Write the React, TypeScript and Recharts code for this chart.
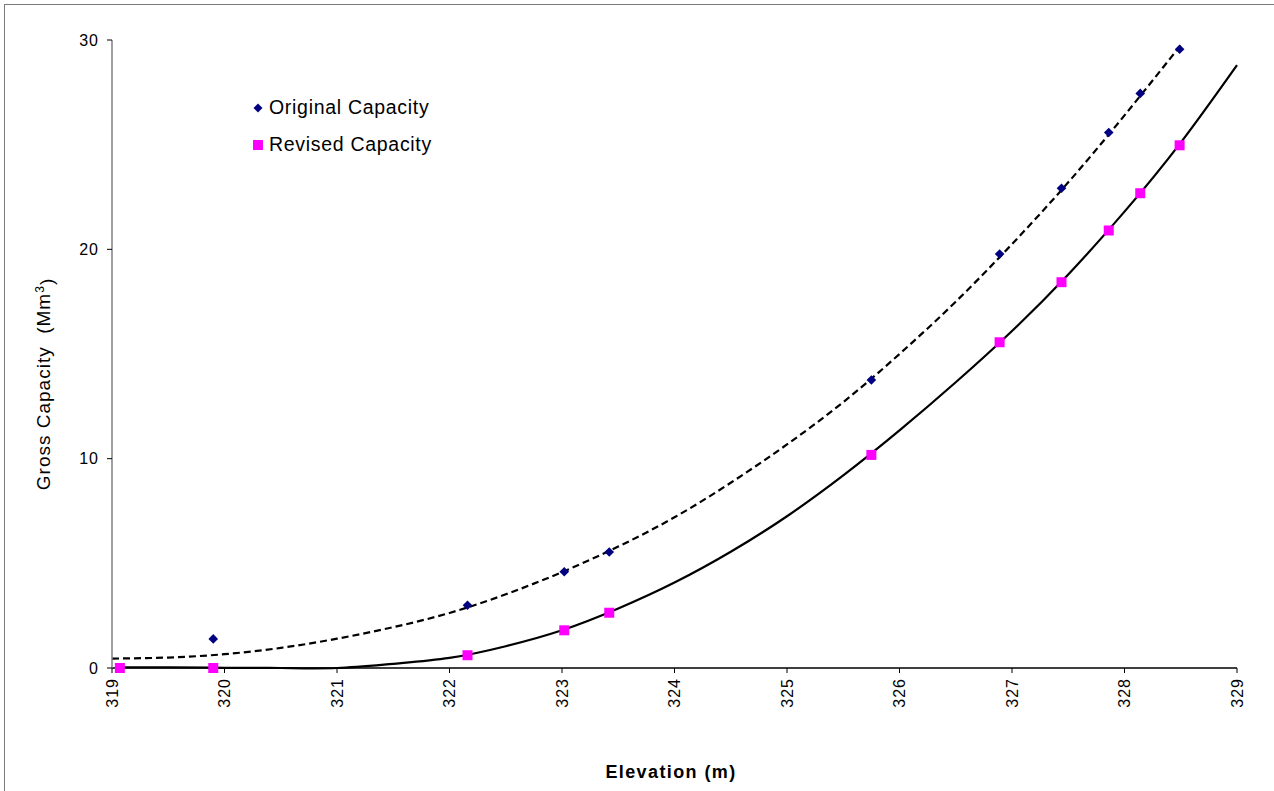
import { ComposedChart, Scatter, Line, XAxis, YAxis, Legend } from 'recharts'

const FONT = '"Liberation Sans", Arial, sans-serif'

// measured points
const originalElev = [319.9, 322.16, 323.02, 323.42, 325.75, 326.89, 327.44, 327.86, 328.14, 328.49]
const originalCap = [1.39, 3.0, 4.6, 5.54, 13.76, 19.78, 22.92, 25.58, 27.45, 29.56]

const revisedElev = [319.07, 319.9, 322.16, 323.02, 323.42, 325.75, 326.89, 327.44, 327.86, 328.14, 328.49]
const revisedCap = [0, 0, 0.61, 1.8, 2.64, 10.18, 15.56, 18.43, 20.9, 22.68, 24.97]

// trend lines
const originalTrendElev = [319, 319.5, 320, 320.5, 321, 321.5, 322, 322.5, 323, 323.5, 324, 324.5, 325, 325.5, 326, 326.5, 327, 327.5, 328, 328.5]
const originalTrendCap = [0.45, 0.5, 0.66, 0.96, 1.4, 1.95, 2.63, 3.52, 4.58, 5.8, 7.2, 8.85, 10.68, 12.7, 15.0, 17.5, 20.25, 23.2, 26.4, 29.75]

const revisedTrendElev = [319.05, 319.5, 320, 320.5, 321, 321.5, 322, 322.5, 323, 323.5, 324, 324.5, 325, 325.5, 326, 326.5, 327, 327.5, 328, 328.5, 329]
const revisedTrendCap = [0.03, 0.03, 0.01, 0, 0, 0.2, 0.48, 1.04, 1.8, 2.84, 4.08, 5.55, 7.25, 9.2, 11.35, 13.65, 16.1, 18.8, 21.8, 25.1, 28.8]

const xTicks = [319, 320, 321, 322, 323, 324, 325, 326, 327, 328, 329]
const yTicks = [0, 10, 20, 30]

const zip = (xs: number[], ys: number[]) => xs.map((x, i) => ({ x, y: ys[i] }))
const originalData = zip(originalElev, originalCap)
const revisedData = zip(revisedElev, revisedCap)
const originalTrend = zip(originalTrendElev, originalTrendCap)
const revisedTrend = zip(revisedTrendElev, revisedTrendCap)

const Diamond = (props: any) => {
  const { cx, cy } = props
  const r = 4.8
  return <polygon points={`${cx},${cy - r} ${cx + r},${cy} ${cx},${cy + r} ${cx - r},${cy}`} fill="#000080" />
}

const Square = (props: any) => {
  const { cx, cy } = props
  return <rect x={cx - 5} y={cy - 5} width={10} height={10} fill="#FF00FF" />
}

const XTick = (props: any) => {
  const { x, y, payload } = props
  return (
    <text
      x={x}
      y={y + 3}
      transform={`rotate(-90, ${x}, ${y + 3})`}
      textAnchor="end"
      dy="0.36em"
      fill="#000"
      style={{ fontFamily: FONT, fontSize: 16, letterSpacing: 1 }}
    >
      {payload.value}
    </text>
  )
}

const YLabel = () => (
  <text
    x={43}
    y={384}
    transform="rotate(-90, 43, 384)"
    textAnchor="middle"
    dy="0.36em"
    fill="#000"
    style={{ fontFamily: FONT, fontSize: 19, letterSpacing: 1 }}
  >
    Gross Capacity&#160;&#160;(Mm<tspan dy="-0.45em" fontSize={12}>3</tspan>
    <tspan dy="0.45em">)</tspan>
  </text>
)

const XLabel = () => (
  <text
    x={671}
    y={772}
    textAnchor="middle"
    dy="0.36em"
    fill="#000"
    style={{ fontFamily: FONT, fontSize: 18, fontWeight: 'bold', letterSpacing: 1.4 }}
  >
    Elevation (m)
  </text>
)

const renderLegend = () => {
  const items = [
    { name: 'Original Capacity', icon: <polygon points="5,0.5 9.5,5 5,9.5 0.5,5" fill="#000080" /> },
    { name: 'Revised Capacity', icon: <rect x={0} y={0} width={10} height={10} fill="#FF00FF" /> },
  ]
  return (
    <div style={{ fontFamily: FONT, fontSize: 19.5, color: '#000' }}>
      {items.map((it) => (
        <div key={it.name} style={{ display: 'flex', alignItems: 'center', height: 37 }}>
          <svg width={10} height={10} style={{ marginRight: 6 }}>
            {it.icon}
          </svg>
          <span style={{ letterSpacing: 0.7 }}>{it.name}</span>
        </div>
      ))}
    </div>
  )
}

export default function App() {
  return (
    <div style={{ position: 'absolute', left: 0, top: 0, width: 1274, height: 791, overflow: 'hidden', background: '#fff' }}>
      <div
        style={{
          position: 'absolute',
          left: 4,
          top: 4,
          width: 1400,
          height: 900,
          border: '1px solid #7a7a7a',
        }}
      />
      <div style={{ position: 'absolute', left: 0, top: 0 }}>
        <ComposedChart width={1274} height={791} margin={{ top: 40, right: 37, bottom: 0, left: 0 }}>
          <XAxis
            dataKey="x"
            type="number"
            domain={[319, 329]}
            ticks={xTicks}
            interval={0}
            height={123}
            axisLine={{ stroke: '#000', strokeWidth: 1.5 }}
            tickLine={{ stroke: '#000' }}
            tickSize={5}
            tick={<XTick />}
            label={<XLabel />}
          />
          <YAxis
            dataKey="y"
            type="number"
            domain={[0, 30]}
            ticks={yTicks}
            interval={0}
            width={112}
            axisLine={{ stroke: '#808080', strokeWidth: 1.5 }}
            tickLine={{ stroke: '#000' }}
            tickSize={5}
            tickMargin={8}
            tick={{ fontFamily: FONT, fontSize: 16, fill: '#000', letterSpacing: 1 }}
            label={<YLabel />}
          />
          <Legend
            layout="vertical"
            align="center"
            verticalAlign="middle"
            wrapperStyle={{ left: 253, top: 89, width: 260 }}
            content={renderLegend}
          />
          <Line
            data={originalTrend}
            dataKey="y"
            type="natural"
            stroke="#000"
            strokeWidth={2.2}
            strokeDasharray="7 4"
            dot={false}
            activeDot={false}
            legendType="none"
            isAnimationActive={false}
          />
          <Line
            data={revisedTrend}
            dataKey="y"
            type="natural"
            stroke="#000"
            strokeWidth={2.2}
            dot={false}
            activeDot={false}
            legendType="none"
            isAnimationActive={false}
          />
          <Scatter name="Original Capacity" data={originalData} dataKey="y" shape={<Diamond />} isAnimationActive={false} />
          <Scatter name="Revised Capacity" data={revisedData} dataKey="y" shape={<Square />} isAnimationActive={false} />
        </ComposedChart>
      </div>
    </div>
  )
}
